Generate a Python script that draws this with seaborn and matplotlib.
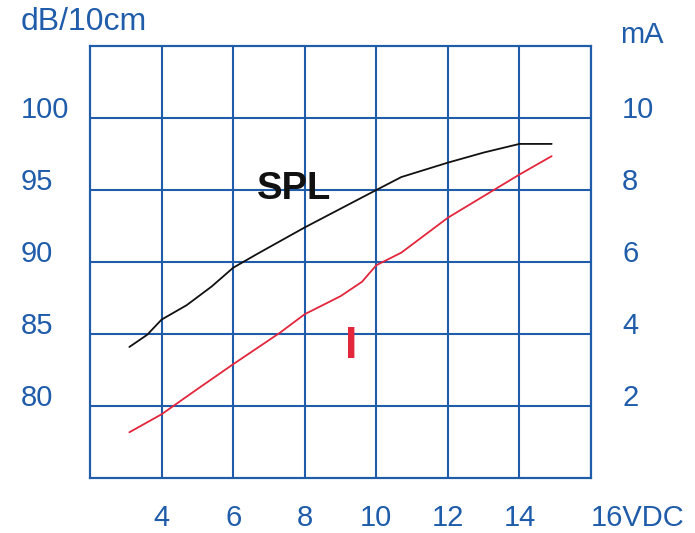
import matplotlib
matplotlib.use("Agg")
import matplotlib.pyplot as plt
import seaborn as sns
import pandas as pd

# SPL curve (left axis, dB/10cm)
spl_volts = [3.1, 3.6, 4.0, 4.7, 5.4, 6.0, 6.7, 8.0, 9.0, 10.0, 10.7, 12.0, 13.0, 14.0, 14.9]
spl_db = [84.1, 84.95, 86.0, 87.0, 88.3, 89.6, 90.6, 92.4, 93.7, 95.0, 95.9, 96.9, 97.6, 98.2, 98.2]

# current curve (right axis, mA)
cur_volts = [3.1, 4.0, 5.0, 6.0, 7.3, 8.0, 9.0, 9.6, 10.0, 10.7, 12.0, 13.0, 14.0, 14.9]
cur_ma = [1.27, 1.77, 2.47, 3.16, 4.03, 4.55, 5.05, 5.45, 5.91, 6.26, 7.23, 7.83, 8.43, 8.94]

x_ticks = [4, 6, 8, 10, 12, 14, 16]
x_labels = ["4", "6", "8", "10", "12", "14", "16VDC"]
db_ticks = [80, 85, 90, 95, 100]
ma_ticks = [2, 4, 6, 8, 10]

blue = "#1f5ca9"
red = "#e3263c"

sns.set_style("white")
plt.rcParams["font.family"] = ["Liberation Sans", "DejaVu Sans"]

spl_df = pd.DataFrame({"volts": spl_volts, "db": spl_db})
cur_df = pd.DataFrame({"volts": cur_volts, "ma": cur_ma})

fig = plt.figure(figsize=(6.95, 5.33), dpi=100)
ax = fig.add_axes([0.1295, 0.1032, 0.7209, 0.8105])
ax2 = ax.twinx()

sns.lineplot(data=spl_df, x="volts", y="db", ax=ax, color="#111111", lw=1.3, estimator=None)
sns.lineplot(data=cur_df, x="volts", y="ma", ax=ax2, color=red, lw=1.3, estimator=None)

ax.set_xlim(2, 16)
ax.set_ylim(75, 105)
ax2.set_ylim(0, 12)

ax.set_xticks(x_ticks, labels=x_labels)
ax.set_yticks(db_ticks, labels=[str(v) for v in db_ticks])
ax2.set_yticks(ma_ticks, labels=[str(v) for v in ma_ticks])

ax.grid(True, color=blue, lw=1.5)
ax2.grid(False)
for a in (ax, ax2):
    for sp in a.spines.values():
        sp.set_color(blue)
        sp.set_linewidth(1.5)
    a.set_xlabel("")
    a.set_ylabel("")

ax.tick_params(axis="x", length=0, pad=19, labelsize=21, labelcolor=blue)
ax.tick_params(axis="y", length=0, pad=49.7, labelsize=21, labelcolor=blue)
ax2.tick_params(axis="y", length=0, pad=22.3, labelsize=21, labelcolor=blue)

for lbl in ax.get_yticklabels():
    lbl.set_ha("left")
    lbl.set_va("baseline")
for lbl in ax2.get_yticklabels():
    lbl.set_va("baseline")
for lbl in ax.get_xticklabels():
    if lbl.get_text().endswith("VDC"):
        lbl.set_ha("left")

# curve labels
ax.text(7.71, 95.1, "SPL", ha="center", va="center", fontsize=27.5, fontweight="bold", color="#111111")
ax.text(9.29, 84.1, "I", ha="center", va="center", fontsize=32, fontweight="bold", color=red)

# axis units
fig.text(0.029, 0.9587, "dB/10cm", ha="left", va="center", fontsize=23, color=blue)
fig.text(0.892, 0.934, "mA", ha="left", va="center", fontsize=21, color=blue)

fig.savefig("out.png", dpi=100)
